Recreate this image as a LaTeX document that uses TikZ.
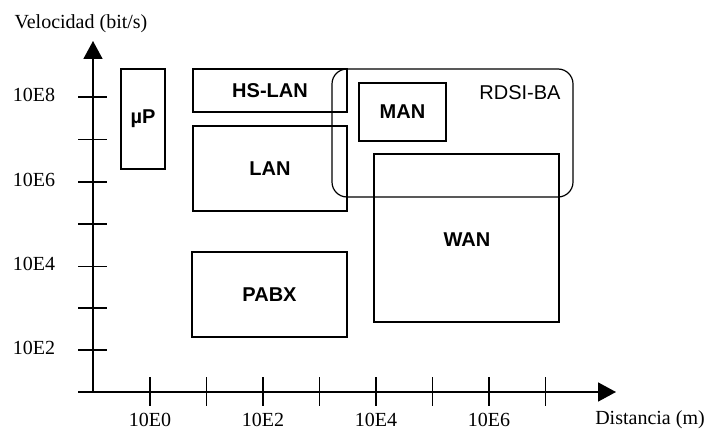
\documentclass[tikz,border=0pt]{standalone}
\usepackage{fontspec}
\setmainfont{Liberation Serif}
\newfontfamily\arialf{Liberation Sans}
\usetikzlibrary{arrows.meta}
\begin{document}
\begin{tikzpicture}[x=1pt,y=-1pt,
  box/.style={draw, line width=1.2pt, inner sep=0pt},
  lbl/.style={font=\arialf\bfseries\fontsize{20}{22}\selectfont},
  axlbl/.style={font=\fontsize{20}{22}\selectfont, inner sep=0pt},
  axisline/.style={line width=1.7pt, -{Triangle[length=18pt,width=19pt]}},
  tickline/.style={line width=1.7pt}]
\useasboundingbox (0,0) rectangle (704,441);
% axes
\coordinate (o) at (93,392);
\coordinate (ytip) at (93,41);
\coordinate (xstart) at (78,392);
\coordinate (xtip) at (616,392);
\draw[axisline] (o) -- (ytip);
\draw[axisline] (xstart) -- (xtip);
\foreach \yy in {97,139.5,182,224,266.5,308,350}
  \draw[tickline] (78,\yy) -- (107,\yy);
\foreach \xx in {150,206.5,263,319.5,376,432.5,489,545.5}
  \draw[tickline] (\xx,377) -- (\xx,406);
% axis labels
\node[axlbl] (vel) at (81,24) {Velocidad (bit/s)};
\node[axlbl] (y8) at (34,95) {10E8};
\node[axlbl] (y6) at (34,180) {10E6};
\node[axlbl] (y4) at (34,264) {10E4};
\node[axlbl] (y2) at (34,348) {10E2};
\node[axlbl] (x0) at (150,420) {10E0};
\node[axlbl] (x2) at (263,420) {10E2};
\node[axlbl] (x4) at (376,420) {10E4};
\node[axlbl] (x6) at (489,420) {10E6};
\node[axlbl] (dist) at (650,420) {Distancia (m)};
% boxes
\node[box, minimum width=44pt, minimum height=100pt, lbl] (up) at (143,119) {µP};
\node[box, minimum width=154pt, minimum height=43pt, lbl] (hslan) at (270,90.5) {HS-LAN};
\node[box, minimum width=154pt, minimum height=85pt, lbl] (lan) at (270,168.5) {LAN};
\node[box, minimum width=155pt, minimum height=85pt, lbl] (pabx) at (269.5,294.5) {PABX};
\node[box, rounded corners=15pt, minimum width=241pt, minimum height=128pt] (rdsi) at (452.5,133) {};
\node[font=\arialf\fontsize{20}{22}\selectfont, inner sep=0pt] (rdsil) at (520,93) {RDSI-BA};
\node[box, minimum width=87pt, minimum height=58pt, lbl] (man) at (402.5,112) {MAN};
\node[box, minimum width=185pt, minimum height=168pt] (wan) at (466.5,238) {};
\node[lbl] (wanl) at (467,240) {WAN};
\end{tikzpicture}
\end{document}
